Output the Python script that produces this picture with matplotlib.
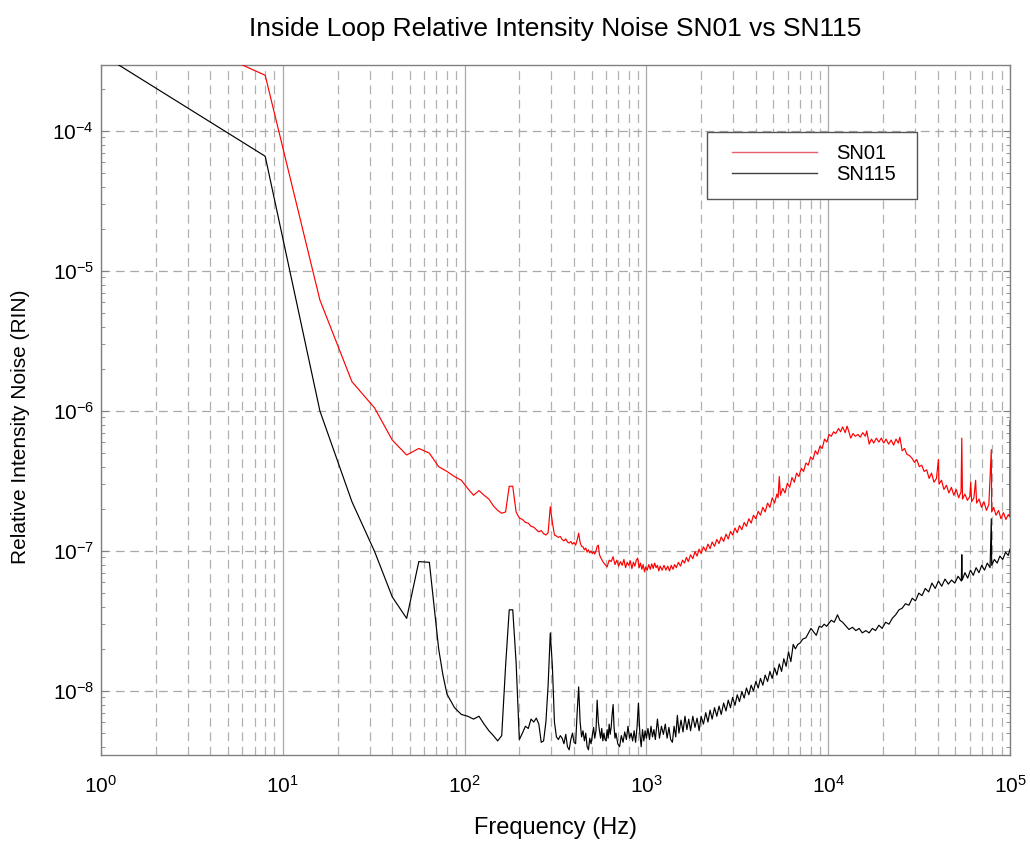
import matplotlib
matplotlib.use("Agg")
import matplotlib.pyplot as plt
from matplotlib.ticker import LogLocator, NullFormatter
from matplotlib.patches import Rectangle

plt.rcParams['font.family'] = ['Liberation Sans', 'DejaVu Sans']
plt.rcParams['mathtext.default'] = 'regular'
plt.rcParams['axes.unicode_minus'] = False

# ---------------- data ----------------
sn01_f = [1, 8, 16, 24, 32, 40, 48, 56, 64, 72, 80, 88, 96, 104, 112, 120, 128, 136, 144, 152, 160,
          168, 176, 184, 192, 200, 208, 216, 224, 232, 240, 248, 256, 264, 272, 280, 288, 296, 304,
          312, 320, 328, 336, 344, 352, 360, 368, 376, 384, 392, 400, 408, 416, 424, 432, 440, 448,
          456, 464, 472, 480, 488, 496, 504, 512, 520, 528, 536, 544, 552, 560, 576, 592, 608, 624,
          640, 656, 672, 688, 704, 720, 736, 752, 768, 784, 800, 816, 832, 848, 864, 880, 896, 912,
          928, 944, 960, 976, 992, 1010, 1030, 1050, 1070, 1090, 1110, 1130, 1150, 1170, 1190, 1220,
          1250, 1280, 1310, 1340, 1370, 1400, 1430, 1460, 1500, 1540, 1580, 1620, 1660, 1700, 1750,
          1800, 1850, 1900, 1950, 2000, 2060, 2120, 2180, 2240, 2300, 2370, 2440, 2510, 2580, 2660,
          2740, 2820, 2900, 2980, 3070, 3160, 3250, 3350, 3450, 3550, 3660, 3770, 3880, 4000, 4120,
          4240, 4370, 4500, 4640, 4780, 4920, 5070, 5220, 5300, 5380, 5460, 5620, 5790, 5960, 6140,
          6320, 6510, 6700, 6900, 7110, 7320, 7540, 7770, 8000, 8240, 8490, 8740, 9000, 9270, 9550,
          9840, 10100, 10400, 10700, 11000, 11400, 11700, 12000, 12400, 12700, 13000, 13300, 13700,
          14100, 14600, 15000, 15500, 16000, 16300, 16800, 17300, 17800, 18400, 19000, 19600, 20200,
          20800, 21500, 22200, 22900, 23600, 24300, 24800, 25500, 26300, 27100, 28000, 28900, 29800,
          30700, 31700, 32700, 33700, 34800, 35900, 37000, 38200, 39400, 40400, 40700, 42000, 43300,
          44700, 46100, 47600, 49100, 50600, 52200, 53800, 54300, 54800, 56500, 58300, 60100, 60800,
          61500, 63300, 64700, 65500, 67600, 69700, 71900, 74200, 76500, 78900, 79300, 81300, 83800,
          86500, 89200, 92000, 94900, 97900, 99800, 100000]
sn01_rin = [8.4e-4, 2.5e-4, 6.2e-6, 1.62e-6, 1.05e-6, 6.2e-7, 4.85e-7, 5.4e-7, 5.0e-7, 4.0e-7, 3.7e-7,
            3.4e-7, 3.2e-7, 2.8e-7, 2.5e-7, 2.7e-7, 2.5e-7, 2.35e-7, 2.1e-7, 1.95e-7, 1.86e-7,
            1.9e-7, 2.9e-7, 2.9e-7, 1.9e-7, 1.72e-7, 1.68e-7, 1.6e-7, 1.58e-7, 1.5e-7, 1.48e-7,
            1.42e-7, 1.37e-7, 1.4e-7, 1.33e-7, 1.3e-7, 1.35e-7, 2.07e-7, 1.6e-7,
            1.3e-7, 1.28e-7, 1.25e-7, 1.27e-7, 1.21e-7, 1.18e-7, 1.22e-7, 1.16e-7, 1.14e-7, 1.17e-7,
            1.12e-7, 1.15e-7, 1.1e-7, 1.2e-7, 1.34e-7, 1.15e-7, 1.08e-7, 1.07e-7,
            1.02e-7, 1.05e-7, 9.8e-8, 1.02e-7, 9.7e-8, 1.0e-7, 9.6e-8, 9.9e-8, 9.5e-8, 1.0e-7,
            1.08e-7, 1.1e-7, 9.4e-8, 9.0e-8, 8.4e-8, 8.0e-8, 7.7e-8, 8.6e-8,
            8.4e-8, 9.1e-8, 8.0e-8, 8.6e-8, 7.8e-8, 8.4e-8, 7.9e-8, 8.7e-8, 7.6e-8, 8.3e-8, 7.9e-8,
            8.5e-8, 7.5e-8, 8.3e-8, 7.8e-8, 8.6e-8, 8.9e-8, 7.6e-8,
            8.2e-8, 7.4e-8, 8.0e-8, 7.1e-8, 7.7e-8, 7.3e-8, 8.0e-8, 7.4e-8, 8.1e-8, 7.5e-8, 8.2e-8,
            7.6e-8, 7.9e-8, 7.2e-8, 7.8e-8, 7.3e-8,
            7.9e-8, 7.3e-8, 7.8e-8, 7.2e-8, 7.9e-8, 7.4e-8, 8.0e-8, 7.6e-8, 8.3e-8, 7.8e-8, 8.6e-8,
            8.2e-8, 9.0e-8, 8.4e-8, 9.4e-8,
            8.8e-8, 9.9e-8, 9.2e-8, 1.03e-7, 9.6e-8, 1.07e-7, 1.0e-7, 1.12e-7, 1.04e-7, 1.16e-7,
            1.08e-7, 1.21e-7, 1.13e-7, 1.26e-7, 1.17e-7,
            1.32e-7, 1.22e-7, 1.38e-7, 1.3e-7, 1.46e-7, 1.35e-7, 1.52e-7, 1.42e-7, 1.6e-7, 1.5e-7,
            1.7e-7, 1.58e-7, 1.8e-7, 1.7e-7, 1.92e-7,
            1.8e-7, 2.05e-7, 1.9e-7, 2.2e-7, 2.05e-7, 2.4e-7, 2.2e-7, 2.55e-7, 2.4e-7, 3.4e-7,
            2.5e-7, 2.8e-7, 2.6e-7, 3.05e-7, 2.85e-7,
            3.35e-7, 3.1e-7, 3.6e-7, 3.4e-7, 3.9e-7, 3.7e-7, 4.25e-7, 4.1e-7, 4.7e-7, 4.5e-7, 5.2e-7,
            4.9e-7, 5.6e-7, 5.4e-7, 6.3e-7,
            6.0e-7, 6.8e-7, 6.6e-7, 7.1e-7, 6.9e-7, 7.5e-7, 7.1e-7, 7.7e-7, 7.0e-7, 7.8e-7, 7.1e-7,
            6.4e-7, 6.9e-7,
            6.6e-7, 6.8e-7, 6.5e-7, 7.0e-7, 6.6e-7, 7.2e-7, 5.8e-7, 6.3e-7, 5.9e-7, 6.4e-7, 6.0e-7,
            6.4e-7, 5.9e-7,
            6.3e-7, 5.8e-7, 6.2e-7, 5.7e-7, 6.3e-7, 5.9e-7, 6.5e-7, 5.2e-7, 5.4e-7, 4.9e-7, 4.8e-7,
            4.6e-7, 4.3e-7,
            4.5e-7, 4.0e-7, 4.1e-7, 3.7e-7, 3.8e-7, 3.3e-7, 3.6e-7, 3.1e-7, 3.3e-7, 4.5e-7, 3.0e-7,
            3.2e-7, 2.75e-7,
            2.95e-7, 2.6e-7, 2.85e-7, 2.5e-7, 2.75e-7, 2.4e-7, 2.65e-7, 6.4e-7, 2.35e-7, 2.55e-7,
            2.3e-7, 2.45e-7, 3.1e-7,
            2.25e-7, 2.4e-7, 3.2e-7, 2.2e-7, 2.35e-7, 2.05e-7, 2.25e-7, 1.95e-7, 2.15e-7, 5.3e-7,
            1.9e-7, 2.05e-7, 1.8e-7,
            1.95e-7, 1.7e-7, 1.88e-7, 1.68e-7, 1.82e-7, 1.75e-7, 8.5e-7]

sn115_f = [1, 8, 16, 24, 32, 40, 48, 56, 64, 68, 72, 76, 80, 88, 96, 104, 112, 120, 128, 136, 144,
           152, 160, 168, 176, 184, 192, 200, 208, 216, 224, 232, 240, 248, 256, 264, 272, 280, 288,
           296, 304, 312, 320, 328, 336, 344, 352, 360, 368, 376, 384, 392, 400, 408, 416, 424, 432,
           440, 448, 456, 464, 472, 480, 488, 496, 504, 512, 520, 528, 536, 544, 552, 560, 568, 576,
           584, 592, 600, 608, 616, 624, 632, 640, 648, 656, 664, 672, 680, 696, 712, 728, 744, 760,
           776, 792, 808, 824, 840, 856, 872, 888, 904, 920, 936, 952, 968, 984, 1000, 1020, 1040,
           1060, 1080, 1100, 1120, 1150, 1180, 1210, 1240, 1270, 1300, 1330, 1360, 1390, 1420, 1450,
           1480, 1510, 1550, 1590, 1630, 1670, 1710, 1750, 1800, 1850, 1900, 1950, 2000, 2060, 2120,
           2180, 2240, 2300, 2370, 2440, 2510, 2580, 2660, 2740, 2820, 2900, 2980, 3070, 3160, 3250,
           3350, 3450, 3550, 3660, 3770, 3880, 4000, 4120, 4240, 4370, 4500, 4640, 4780, 4920, 5070,
           5220, 5380, 5540, 5700, 5870, 6050, 6230, 6420, 6600, 6800, 7000, 7250, 7540, 7800, 8040,
           8300, 8600, 8930, 9200, 9500, 9800, 10100, 10400, 10800, 11250, 11600, 12000, 12400,
           13000, 13600, 14200, 14800, 15400, 16100, 16800, 17500, 18200, 19000, 19800, 20700, 21600,
           22500, 23500, 24500, 25500, 26600, 27800, 29000, 30200, 31500, 32800, 34200, 35700, 37200,
           38800, 40400, 42100, 43900, 45800, 47700, 49700, 51800, 54000, 54300, 54600, 56500, 58500,
           60600, 62800, 65100, 67500, 69900, 72400, 75000, 77700, 78900, 79300, 82000, 85000, 88000,
           91200, 94500, 97800, 100000]
sn115_rin = [3.55e-4, 6.6e-5, 1.0e-6, 2.25e-7, 9.9e-8, 4.7e-8, 3.3e-8, 8.4e-8, 8.3e-8, 4.0e-8, 2.0e-8,
             1.3e-8, 9.5e-9, 7.6e-9, 6.8e-9, 6.6e-9, 6.3e-9, 6.6e-9, 5.8e-9, 5.2e-9, 4.8e-9,
             4.4e-9, 4.8e-9, 1.5e-8, 3.8e-8, 3.8e-8, 1.6e-8, 4.5e-9, 5.0e-9, 5.6e-9, 5.4e-9, 6.3e-9,
             6.0e-9, 6.4e-9, 5.8e-9, 4.3e-9, 4.4e-9, 6.0e-9, 1.1e-8,
             2.6e-8, 1.5e-8, 6.0e-9, 4.7e-9, 4.5e-9, 4.8e-9, 4.6e-9, 4.2e-9, 4.9e-9, 4.0e-9, 3.8e-9,
             4.5e-9, 5.0e-9, 4.3e-9, 4.2e-9, 7.0e-9, 1.07e-8, 6.0e-9,
             4.7e-9, 5.2e-9, 4.4e-9, 5.0e-9, 4.0e-9, 3.8e-9, 4.6e-9, 4.2e-9, 4.8e-9, 5.5e-9, 4.6e-9,
             5.2e-9, 8.6e-9, 6.0e-9, 5.2e-9, 4.6e-9, 5.4e-9, 4.4e-9,
             5.0e-9, 4.5e-9, 4.4e-9, 5.3e-9, 4.6e-9, 5.8e-9, 4.9e-9, 5.5e-9, 6.8e-9, 8.0e-9, 5.5e-9,
             4.6e-9, 5.0e-9, 4.2e-9, 4.0e-9, 4.8e-9, 4.3e-9, 5.1e-9,
             4.5e-9, 5.6e-9, 4.6e-9, 5.0e-9, 4.4e-9, 5.2e-9, 4.3e-9, 5.5e-9, 8.2e-9, 5.0e-9, 4.0e-9,
             5.3e-9, 4.4e-9, 5.2e-9, 4.6e-9, 5.4e-9, 4.5e-9,
             5.6e-9, 4.7e-9, 5.3e-9, 4.5e-9, 6.3e-9, 4.6e-9, 5.6e-9, 4.9e-9, 5.8e-9, 4.6e-9, 5.5e-9,
             4.5e-9, 4.3e-9, 5.6e-9, 4.7e-9,
             6.7e-9, 5.0e-9, 6.2e-9, 5.1e-9, 6.6e-9, 5.3e-9, 6.3e-9, 5.2e-9, 6.6e-9, 5.5e-9, 6.4e-9,
             5.2e-9, 6.6e-9, 5.8e-9, 7.0e-9,
             6.0e-9, 7.3e-9, 6.3e-9, 7.6e-9, 6.6e-9, 7.8e-9, 6.8e-9, 8.2e-9, 7.2e-9, 8.6e-9, 7.6e-9,
             9.0e-9, 7.9e-9, 9.4e-9, 8.4e-9,
             9.9e-9, 8.9e-9, 1.05e-8, 9.4e-9, 1.1e-8, 1.0e-8, 1.17e-8, 1.05e-8, 1.23e-8, 1.1e-8,
             1.3e-8, 1.17e-8, 1.38e-8, 1.23e-8, 1.46e-8,
             1.3e-8, 1.56e-8, 1.38e-8, 1.7e-8, 1.5e-8, 1.9e-8, 1.62e-8, 2.15e-8, 2.0e-8, 2.15e-8,
             2.2e-8, 2.35e-8, 2.4e-8, 2.6e-8, 2.8e-8,
             2.65e-8, 2.5e-8, 2.9e-8, 2.85e-8, 3.0e-8, 2.9e-8, 3.05e-8, 3.2e-8, 3.1e-8, 3.5e-8, 3.2e-8,
             3.1e-8, 2.95e-8,
             2.75e-8, 2.85e-8, 2.7e-8, 2.8e-8, 2.6e-8, 2.7e-8, 2.6e-8, 2.8e-8, 2.7e-8, 2.95e-8, 2.8e-8,
             3.1e-8, 3.0e-8,
             3.3e-8, 3.5e-8, 3.8e-8, 3.9e-8, 4.2e-8, 4.1e-8, 4.6e-8, 4.4e-8, 5.0e-8, 4.8e-8, 5.4e-8,
             5.1e-8, 5.9e-8,
             5.4e-8, 6.1e-8, 5.6e-8, 6.3e-8, 5.8e-8, 6.2e-8, 5.9e-8, 6.6e-8, 6.1e-8, 9.4e-8, 6.2e-8,
             7.0e-8, 6.4e-8,
             7.3e-8, 6.7e-8, 7.6e-8, 7.0e-8, 7.9e-8, 7.3e-8, 8.2e-8, 7.6e-8, 1.7e-7, 7.9e-8, 8.7e-8,
             8.2e-8, 9.2e-8,
             8.7e-8, 9.8e-8, 9.3e-8, 1.03e-7]

series_labels = ["SN01", "SN115"]
title = "Inside Loop Relative Intensity Noise SN01 vs SN115"
xlabel = "Frequency (Hz)"
ylabel = "Relative Intensity Noise (RIN)"

# ---------------- plot ----------------
W, H = 1030, 844
fig = plt.figure(figsize=(W / 100, H / 100), dpi=100)
ax = fig.add_axes([101 / W, 1 - 755 / H, 909 / W, 690 / H])

ax.plot(sn01_f, sn01_rin, color='#ff0000', lw=0.85, label=series_labels[0], zorder=3)
ax.plot(sn115_f, sn115_rin, color='#000000', lw=0.85, label=series_labels[1], zorder=3)

ax.set_xscale('log')
ax.set_yscale('log')
ax.set_xlim(1, 1e5)
ax.set_ylim(3.49e-9, 2.96e-4)

ax.xaxis.set_major_locator(LogLocator(base=10, numticks=10))
ax.xaxis.set_minor_locator(LogLocator(base=10, subs=range(2, 10), numticks=20))
ax.xaxis.set_minor_formatter(NullFormatter())
ax.yaxis.set_major_locator(LogLocator(base=10, numticks=10))
ax.yaxis.set_minor_locator(LogLocator(base=10, subs=range(2, 10), numticks=20))
ax.yaxis.set_minor_formatter(NullFormatter())

ax.grid(which='major', axis='x', color='#a8a8a8', lw=0.9, ls='-')
ax.grid(which='minor', axis='x', color='#b0b0b0', lw=0.9, ls=(0, (7, 4.5)))
ax.grid(which='major', axis='y', color='#a8a8a8', lw=0.9, ls=(0, (7, 4.5)))
ax.set_axisbelow(True)

for s in ax.spines.values():
    s.set_color('#808080')
    s.set_linewidth(1.0)

ax.tick_params(which='both', direction='in', top=False, right=True, colors='#808080',
               labelcolor='black', labelsize=15)
ax.tick_params(which='major', length=5, pad=5)
ax.tick_params(which='minor', length=3)
ax.tick_params(axis='x', which='both', length=0, pad=14)

ax.set_title(title, fontsize=19, pad=21)
ax.set_xlabel(xlabel, fontsize=17, va='center')
ax.xaxis.set_label_coords(0.5, (755 - 828) / 690)
ax.set_ylabel(ylabel, fontsize=15, va='center')
ax.yaxis.set_label_coords((21 - 101) / 909, (755 - 427) / 690)

# legend: entries without frame, frame drawn as a separate rectangle
leg = ax.legend(loc='upper left', bbox_to_anchor=((732 - 101) / 909, (755 - 144) / 690),
                fontsize=14.5, frameon=False, handlelength=4.2, labelspacing=0.1,
                borderpad=0, borderaxespad=0, handletextpad=0.95)
for line, c in zip(leg.get_lines(), ['#e86070', '#404040']):
    line.set_linewidth(1.0)
    line.set_color(c)
ax.add_patch(Rectangle(((707 - 101) / 909, (755 - 199) / 690), 210 / 909, 67 / 690,
                       transform=ax.transAxes, facecolor='white', edgecolor='#555555',
                       lw=1.0, zorder=4))
leg.set_zorder(5)

fig.savefig('out.png', dpi=100)
